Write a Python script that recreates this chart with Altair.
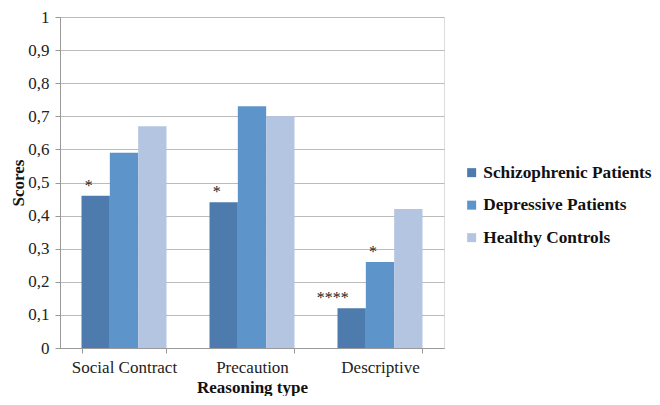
import altair as alt
import pandas as pd

categories = ["Social Contract", "Precaution", "Descriptive"]
groups = ["Schizophrenic Patients", "Depressive Patients", "Healthy Controls"]
schizophrenic = [0.46, 0.44, 0.12]
depressive = [0.59, 0.73, 0.26]
healthy = [0.67, 0.70, 0.42]
marks_schizophrenic = ["*", "*", "****"]
marks_depressive = ["", "", "*"]
marks_healthy = ["", "", ""]

colors = ["#4e7bae", "#5d95cb", "#b4c5e1"]

rows = []
for series, vals, marks in zip(groups, [schizophrenic, depressive, healthy],
                               [marks_schizophrenic, marks_depressive, marks_healthy]):
    for c, v, m in zip(categories, vals, marks):
        rows.append({"Reasoning type": c, "Group": series, "Score": v, "Sig": m})
df = pd.DataFrame(rows)

FONT = "Liberation Serif"

x = alt.X("Reasoning type:N", sort=categories,
          scale=alt.Scale(paddingInner=0.336, paddingOuter=0.168),
          axis=alt.Axis(title="Reasoning type", labelAngle=0, labelFontSize=17,
                        labelFont=FONT, labelColor="#222", labelPadding=6,
                        labelOverlap=False,
                        titleFont=FONT, titleFontSize=17, titleFontWeight="bold",
                        titleColor="#111", titlePadding=4,
                        tickBand="extent", tickSize=5, tickColor="#999",
                        domainColor="#999"))
xo = alt.XOffset("Group:N", sort=groups, scale=alt.Scale(paddingInner=0, paddingOuter=0))

y = alt.Y("Score:Q", scale=alt.Scale(domain=[0, 1], nice=False),
          axis=alt.Axis(title="Scores", values=[round(i / 10, 1) for i in range(11)],
                        labelExpr="datum.value == 0 ? '0' : datum.value == 1 ? '1' : replace(format(datum.value, '.1f'), '.', ',')",
                        labelFont=FONT, labelFontSize=17, labelColor="#222", labelPadding=6,
                        labelOverlap=False,
                        titleFont=FONT, titleFontSize=17, titleFontWeight="bold",
                        titleColor="#111", titlePadding=0,
                        tickSize=5, tickColor="#999", domainColor="#999",
                        grid=True, gridColor="#bbbbbb", gridWidth=1))

bars = alt.Chart(df).mark_bar().encode(
    x=x, xOffset=xo, y=y,
    color=alt.Color("Group:N", sort=groups,
                    scale=alt.Scale(domain=groups, range=colors),
                    legend=alt.Legend(title=None, orient="none", legendX=403, legendY=147,
                                      padding=0,
                                      symbolType="square", symbolSize=81,
                                      symbolStrokeWidth=0,
                                      labelFont=FONT, labelFontSize=17.3,
                                      labelFontWeight="bold", labelColor="#111",
                                      labelOffset=3,
                                      rowPadding=14.5, labelLimit=300))
)

text = alt.Chart(df).mark_text(baseline="bottom", align="right", dx=-3, dy=-2,
                               font=FONT, fontSize=16, color="#222").encode(
    x=x, xOffset=xo, y=y,
    text="Sig:N"
)

chart = alt.layer(bars, text).properties(
    width=384, height=331,
    autosize=alt.AutoSizeParams(type="none"),
    padding={"left": 52, "top": 9, "right": 208, "bottom": 48}
).configure_view(stroke=None).configure(background="white")

chart.save("out.html", embed_options={"renderer": "svg", "actions": False})
